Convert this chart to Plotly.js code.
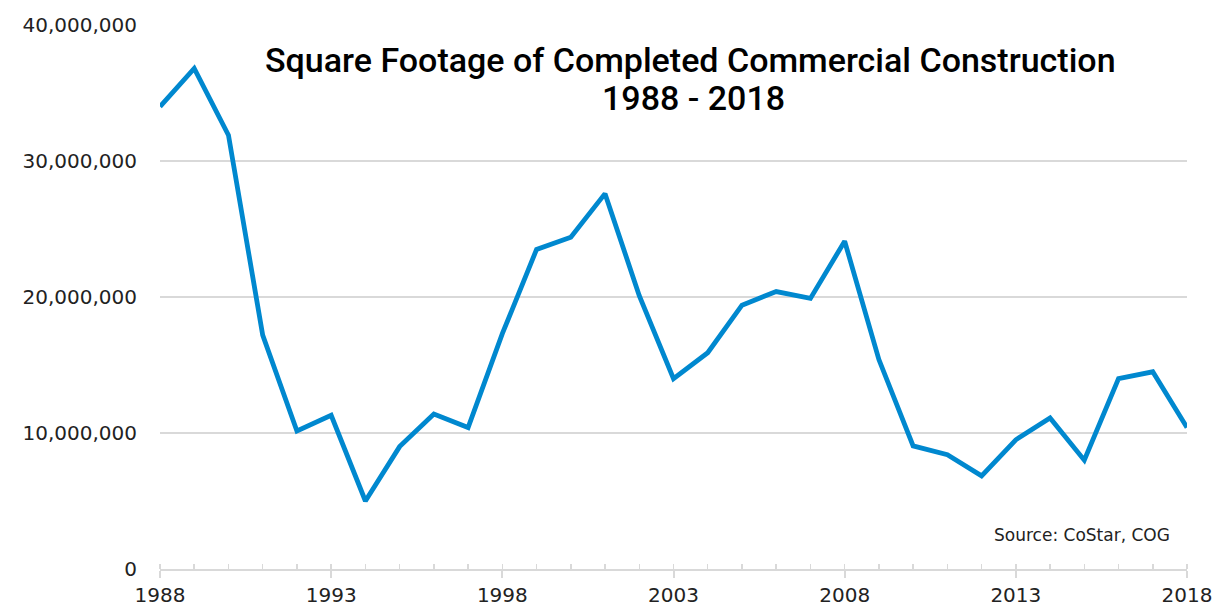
<!DOCTYPE html>
<html>
<head>
<meta charset="utf-8">
<script src="https://cdn.plot.ly/plotly-3.0.1.min.js"></script>
<style>html,body{margin:0;padding:0;background:#fff;}#chart{width:1220px;height:608px;}</style>
</head>
<body>
<div id="chart"></div>
<script>
const years = [1988,1989,1990,1991,1992,1993,1994,1995,1996,1997,1998,1999,2000,2001,2002,2003,2004,2005,2006,2007,2008,2009,2010,2011,2012,2013,2014,2015,2016,2017,2018];
const sqft = [34000000,36800000,31900000,17200000,10150000,11300000,5000000,9000000,11400000,10400000,17300000,23500000,24400000,27600000,20100000,14000000,15900000,19400000,20400000,19900000,24100000,15400000,9050000,8400000,6850000,9500000,11100000,8000000,14000000,14500000,10400000];
const yTicks = [0,10000000,20000000,30000000,40000000];
const yTickText = ["0","10,000,000","20,000,000","30,000,000","40,000,000"];
const xTicks = [1988,1993,1998,2003,2008,2013,2018];
const titleLine1 = "Square Footage of Completed Commercial Construction";
const titleLine2 = "1988 - 2018";
const sourceText = "Source: CoStar, COG";

const trace = {
  x: years, y: sqft, type: 'scatter', mode: 'lines',
  line: {color: '#0088CF', width: 4.8, shape: 'linear'},
  cliponaxis: false, hoverinfo: 'x+y'
};

const titleFont = {family: 'Roboto, Liberation Sans, sans-serif', size: 34, color: '#000', weight: 500};

const layout = {
  width: 1220, height: 608,
  margin: {l: 160, r: 33, t: 25, b: 39},
  paper_bgcolor: '#ffffff', plot_bgcolor: '#ffffff',
  showlegend: false,
  font: {family: 'DejaVu Sans, sans-serif', color: '#222'},
  xaxis: {
    range: [1988, 2018], tickmode: 'array', tickvals: xTicks, ticktext: xTicks.map(String),
    showgrid: false, zeroline: false, showline: true, linecolor: '#d9d9d9', linewidth: 2,
    ticks: 'outside', ticklen: 7, tickcolor: '#d9d9d9', tickwidth: 2,
    minor: {dtick: 1, ticks: 'inside', ticklen: 5, tickcolor: '#d9d9d9', tickwidth: 1.5, showgrid: false},
    tickfont: {family: 'DejaVu Sans, sans-serif', size: 20, color: '#222'}
  },
  yaxis: {
    range: [0, 40000000], tickmode: 'array', tickvals: yTicks, ticktext: yTickText,
    showgrid: true, gridcolor: '#d9d9d9', gridwidth: 1.5, zeroline: false, showline: false,
    ticks: '', ticklabelstandoff: 22,
    tickfont: {family: 'DejaVu Sans, sans-serif', size: 20, color: '#222'}
  },
  annotations: [
    {text: titleLine1, xref: 'paper', yref: 'paper', x: 0.517, y: 0.936, xanchor: 'center', yanchor: 'middle',
     showarrow: false, font: titleFont},
    {text: titleLine2, xref: 'paper', yref: 'paper', x: 0.519, y: 0.866, xanchor: 'center', yanchor: 'middle',
     showarrow: false, font: titleFont},
    {text: sourceText, xref: 'paper', yref: 'paper', x: 0.985, y: 0.0625, xanchor: 'right', yanchor: 'middle',
     showarrow: false, font: {family: 'DejaVu Sans, sans-serif', size: 17, color: '#222'}}
  ]
};

Plotly.newPlot('chart', [trace], layout, {displayModeBar: false, staticPlot: true});
</script>
</body>
</html>
